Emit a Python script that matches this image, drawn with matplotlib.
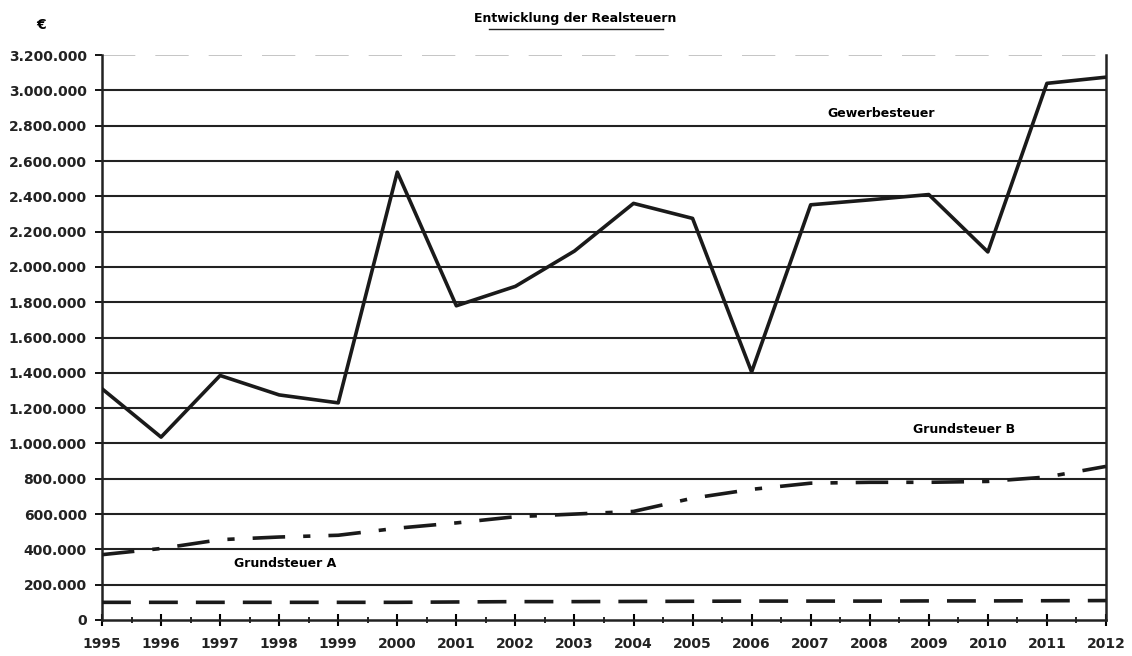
import matplotlib.pyplot as plt
from matplotlib.ticker import FuncFormatter, MultipleLocator

years = list(range(1995, 2013))
gewerbe = [1310000, 1036000, 1385000, 1275000, 1230000, 2537000, 1780000, 1890000,
           2090000, 2360000, 2275000, 1405000, 2352000, 2380000, 2410000, 2085000,
           3040000, 3075000]
grund_b = [370000, 405000, 455000, 470000, 480000, 520000, 550000, 585000, 600000,
           615000, 690000, 740000, 775000, 780000, 780000, 785000, 810000, 870000]
grund_a = [100000, 100000, 100000, 100000, 100000, 100000, 102000, 104000, 104000,
           105000, 106000, 107000, 107000, 107000, 108000, 108000, 109000, 110000]

fig = plt.figure(figsize=(11.32, 6.56), dpi=100)
ax = fig.add_axes([0.0901, 0.0549, 0.8869, 0.8611])

for v in range(200000, 3000001, 200000):
    ax.axhline(v, color="#222222", lw=1.5, zorder=1)
ax.axhline(3200000, color="#bbbbbb", lw=1.2, dashes=(20, 12), zorder=1)

ax.plot(years, gewerbe, color="#1a1a1a", lw=2.6, zorder=3)
ax.plot(years, grund_b, color="#1a1a1a", lw=2.6, dashes=(9, 5, 2, 5), zorder=3)
ax.plot(years, grund_a, color="#1a1a1a", lw=2.6, dashes=(8, 5), zorder=3)

ax.set_xlim(1995, 2012)
ax.set_ylim(0, 3200000)
ax.set_xticks(years)
ax.xaxis.set_minor_locator(MultipleLocator(0.5))
ax.set_yticks(range(0, 3200001, 200000))
ax.yaxis.set_major_formatter(FuncFormatter(lambda v, p: f"{int(v):,}".replace(",", ".")))
ax.tick_params(axis="x", which="major", direction="inout", length=8, width=1.5, pad=8)
ax.tick_params(axis="x", which="minor", direction="inout", length=5, width=1.2)
ax.tick_params(axis="y", direction="out", length=5, width=1.3, pad=6)
for lab in ax.get_xticklabels() + ax.get_yticklabels():
    lab.set_fontsize(10)
    lab.set_fontweight("bold")
    lab.set_color("#222222")

for s in ["left", "right", "bottom"]:
    ax.spines[s].set_linewidth(1.8)
    ax.spines[s].set_color("#222222")
ax.spines["top"].set_visible(False)

ax.text(2008.2, 2870000, "Gewerbesteuer", fontsize=9, fontweight="bold", ha="center", va="center")
ax.text(2009.6, 1080000, "Grundsteuer B", fontsize=9, fontweight="bold", ha="center", va="center")
ax.text(1998.1, 320000, "Grundsteuer A", fontsize=9, fontweight="bold", ha="center", va="center")

fig.text(0.508, 0.972, "Entwicklung der Realsteuern", fontsize=9, fontweight="bold",
         ha="center", va="center")
fig.add_artist(plt.Line2D([0.432, 0.586], [0.956, 0.956], color="#222222", lw=1))
fig.text(0.036, 0.962, "€", fontsize=10, fontweight="bold", ha="center", va="center")

fig.savefig("out.png", dpi=100)
